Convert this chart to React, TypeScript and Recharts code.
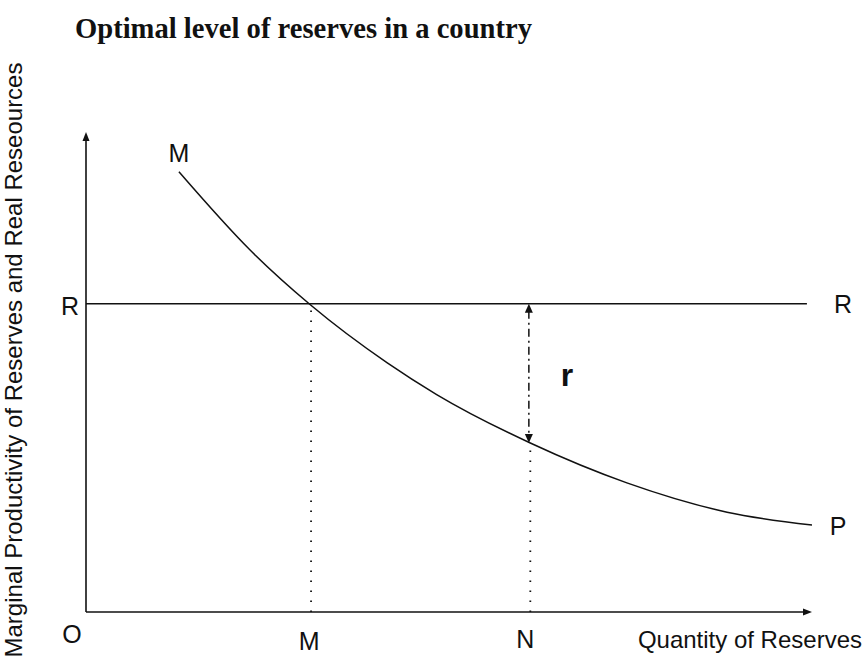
import React from 'react';
import { ComposedChart, Line, XAxis, YAxis, ReferenceLine, ReferenceDot } from 'recharts';

// ---- data ----
const curveQuantity = [12.8, 22.6, 30.9, 41.5, 48.3, 61.2, 74.5, 88.3, 100];
const curveProductivity = [91.7, 75.4, 64.0, 51.9, 45.3, 35.2, 26.9, 20.8, 18.1];
const realResourceCost = 64.2; // level of the R–R line
const realResourceEnd = 99.3;
const quantityM = 31.0;
const quantityN = 61.2;
const productivityAtN = 35.2;
const gapArrowQuantity = 61.0;
const axisMin = 0;
const axisMax = 100;

const chartTitle = 'Optimal level of reserves in a country';
const yAxisTitle = 'Marginal Productivity of Reserves and Real Reseources';
const xAxisTitle = 'Quantity of Reserves';
const curveStartLabel = 'M';
const curveEndLabel = 'P';
const costLabel = 'R';
const originLabel = 'O';
const pointMLabel = 'M';
const pointNLabel = 'N';
const gapLabel = 'r';

const curveData = curveQuantity.map((q, i) => ({ q, mp: curveProductivity[i] }));

const INK = '#111';
const SANS = '"Liberation Sans", Arial, Helvetica, sans-serif';
const SERIF = '"Liberation Serif", "Times New Roman", serif';

function head(x: number, y: number, ux: number, uy: number, len: number, half: number) {
  const bx = x - ux * len;
  const by = y - uy * len;
  const px = -uy * half;
  const py = ux * half;
  return `${x},${y} ${bx + px},${by + py} ${bx - px},${by - py}`;
}

const axisShape = (props: any) => {
  const { x1, y1, x2, y2 } = props;
  const L = Math.hypot(x2 - x1, y2 - y1) || 1;
  const ux = (x2 - x1) / L;
  const uy = (y2 - y1) / L;
  return (
    <g>
      <line x1={x1} y1={y1} x2={x2 - ux * 5} y2={y2 - uy * 5} stroke={INK} strokeWidth={1.6} />
      <polygon points={head(x2, y2, ux, uy, 9, 3.5)} fill={INK} />
    </g>
  );
};

const gapArrowShape = (props: any) => {
  const { x1, y1, x2, y2 } = props;
  const L = Math.hypot(x2 - x1, y2 - y1) || 1;
  const ux = (x2 - x1) / L;
  const uy = (y2 - y1) / L;
  return (
    <g>
      <line
        x1={x1 + ux * 7}
        y1={y1 + uy * 7}
        x2={x2 - ux * 7}
        y2={y2 - uy * 7}
        stroke={INK}
        strokeWidth={1.5}
        strokeDasharray="8 4 2 4"
      />
      <polygon points={head(x2, y2, ux, uy, 9, 4)} fill={INK} />
      <polygon points={head(x1, y1, -ux, -uy, 9, 4)} fill={INK} />
    </g>
  );
};

const dottedShape = (props: any) => {
  const { x1, y1, x2, y2 } = props;
  return (
    <line
      x1={x1}
      y1={y1}
      x2={x2}
      y2={y2}
      stroke={INK}
      strokeWidth={1.8}
      strokeDasharray="1.5 8.5"
    />
  );
};

const plainShape = (props: any) => {
  const { x1, y1, x2, y2 } = props;
  return <line x1={x1} y1={y1} x2={x2} y2={y2} stroke={INK} strokeWidth={1.5} />;
};

const textAt =
  (text: string, dx: number, dy: number, size = 25, weight: any = 'normal', anchor: any = 'middle') =>
  (props: any) =>
    (
      <text
        x={props.cx + dx}
        y={props.cy + dy}
        textAnchor={anchor}
        fontFamily={SANS}
        fontSize={size}
        fontWeight={weight}
        fill={INK}
      >
        {text}
      </text>
    );

export default function App() {
  return (
    <div style={{ position: 'absolute', left: 0, top: 0, width: 867, height: 664, background: '#fff' }}>
      <ComposedChart
        width={867}
        height={664}
        data={curveData}
        margin={{ left: 86, right: 55, top: 132, bottom: 52 }}
      >
        <XAxis
          type="number"
          dataKey="q"
          domain={[axisMin, axisMax]}
          allowDataOverflow
          hide
        />
        <YAxis type="number" domain={[axisMin, axisMax]} allowDataOverflow hide />

        <ReferenceLine
          segment={[
            { x: axisMin, y: axisMin },
            { x: axisMin, y: axisMax },
          ]}
          shape={axisShape}
        />
        <ReferenceLine
          segment={[
            { x: axisMin, y: axisMin },
            { x: axisMax, y: axisMin },
          ]}
          shape={axisShape}
        />
        <ReferenceLine
          segment={[
            { x: axisMin, y: realResourceCost },
            { x: realResourceEnd, y: realResourceCost },
          ]}
          shape={plainShape}
        />
        <ReferenceLine
          segment={[
            { x: quantityM, y: axisMin },
            { x: quantityM, y: realResourceCost },
          ]}
          shape={dottedShape}
        />
        <ReferenceLine
          segment={[
            { x: quantityN, y: axisMin },
            { x: quantityN, y: productivityAtN },
          ]}
          shape={dottedShape}
        />
        <ReferenceLine
          segment={[
            { x: gapArrowQuantity, y: realResourceCost },
            { x: gapArrowQuantity, y: productivityAtN },
          ]}
          shape={gapArrowShape}
        />

        <Line
          type="monotone"
          dataKey="mp"
          stroke={INK}
          strokeWidth={1.5}
          dot={false}
          activeDot={false}
          isAnimationActive={false}
        />

        <ReferenceDot x={curveQuantity[0]} y={curveProductivity[0]} shape={textAt(curveStartLabel, 0, -10)} />
        <ReferenceDot
          x={curveQuantity[curveQuantity.length - 1]}
          y={curveProductivity[curveProductivity.length - 1]}
          shape={textAt(curveEndLabel, 26, 10)}
        />
        <ReferenceDot x={axisMin} y={realResourceCost} shape={textAt(costLabel, -16, 11)} />
        <ReferenceDot x={realResourceEnd} y={realResourceCost} shape={textAt(costLabel, 36, 9)} />
        <ReferenceDot x={axisMin} y={axisMin} shape={textAt(originLabel, -14, 31)} />
        <ReferenceDot x={quantityM} y={axisMin} shape={textAt(pointMLabel, -2, 38)} />
        <ReferenceDot x={quantityN} y={axisMin} shape={textAt(pointNLabel, -5, 36)} />
        <ReferenceDot
          x={gapArrowQuantity}
          y={(realResourceCost + productivityAtN) / 2}
          shape={textAt(gapLabel, 38, 13, 32, 'bold')}
        />
        <ReferenceDot x={axisMax} y={axisMin} shape={textAt(xAxisTitle, 50, 36, 24, 'normal', 'end')} />

        <text
          x={75}
          y={38}
          fontFamily={SERIF}
          fontWeight="bold"
          fontSize={30}
          textLength={457}
          lengthAdjust="spacingAndGlyphs"
          fill={INK}
        >
          {chartTitle}
        </text>
        <text
          x={22}
          y={360}
          transform="rotate(-90 22 360)"
          textAnchor="middle"
          fontFamily={SANS}
          fontSize={24}
          fill={INK}
        >
          {yAxisTitle}
        </text>
      </ComposedChart>
    </div>
  );
}
